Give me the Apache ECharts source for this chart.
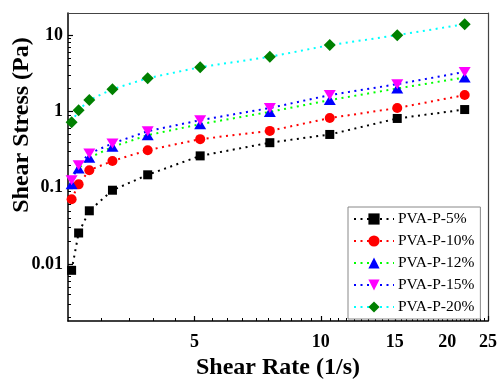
<!DOCTYPE html>
<html>
<head>
<meta charset="utf-8">
<script src="https://cdn.jsdelivr.net/npm/echarts@6/dist/echarts.min.js"></script>
<style>
  html, body { margin: 0; padding: 0; background: #fff; }
  #chart { width: 500px; height: 380px; }
</style>
</head>
<body>
<div id="chart"></div>
<script>
// Shear rate (1/s) for each measurement point
const shearRate = [2.55, 2.65, 2.81, 3.19, 3.87, 5.16, 7.56, 10.5, 15.2, 22.0];

// Shear stress (Pa) for each PVA-P concentration
const stress5  = [0.0083, 0.0256, 0.050, 0.093, 0.148, 0.262, 0.39, 0.50, 0.81, 1.06];
const stress10 = [0.071, 0.111, 0.170, 0.225, 0.311, 0.434, 0.557, 0.82, 1.11, 1.64];
const stress12 = [0.111, 0.179, 0.247, 0.344, 0.489, 0.682, 0.988, 1.41, 2.0, 2.79];
const stress15 = [0.126, 0.198, 0.282, 0.381, 0.552, 0.769, 1.11, 1.64, 2.28, 3.30];
const stress20 = [0.72, 1.04, 1.41, 1.96, 2.73, 3.81, 5.2, 7.4, 10.0, 13.9];

const seriesNames = ['PVA-P-5%', 'PVA-P-10%', 'PVA-P-12%', 'PVA-P-15%', 'PVA-P-20%'];

// Axis tick values
const xMajorTicks = [5, 10, 15, 20, 25];
const xMinorTicks = [];
for (let v = 3; v < 25; v += 0.5) {
  if (xMajorTicks.indexOf(v) < 0) xMinorTicks.push(v);
}
const yMajorTicks = [0.01, 0.1, 1, 10];
const yMinorTicks = [];
[0.001, 0.01, 0.1, 1].forEach(function (base) {
  for (let k = 2; k <= 9; k++) yMinorTicks.push(+(base * k).toPrecision(3));
});

const X_MIN = 2.5, X_MAX = 25;
const Y_MIN = 0.0018, Y_MAX = 19.5;

const serif = "'Liberation Serif', 'Times New Roman', serif";
const lg = Math.log10;

function pairs(ys) {
  return shearRate.map(function (x, i) { return [x, ys[i]]; });
}

function makeSeries(name, ys, symbol, size, markerColor, lineColor, rotate) {
  return {
    name: name,
    type: 'line',
    data: pairs(ys),
    xAxisIndex: 0,
    yAxisIndex: 0,
    symbol: symbol,
    symbolSize: size,
    symbolRotate: rotate || 0,
    showAllSymbol: true,
    clip: true,
    itemStyle: { color: markerColor, borderWidth: 0 },
    lineStyle: { color: lineColor, width: 2, type: [2, 4.5] },
    emphasis: { disabled: true },
    z: 3
  };
}

// Companion axes laid out in log10 space that carry only the tick marks
function tickAxis(pos, lo, hi, values, len, width) {
  return {
    type: 'value', min: lg(lo), max: lg(hi), position: pos,
    axisLine: { show: false, onZero: false },
    axisTick: { show: true, inside: true, length: len, lineStyle: { color: '#000', width: width }, customValues: values.map(lg) },
    axisLabel: { show: false }, splitLine: { show: false }
  };
}

function frameAxis(pos) {
  return {
    type: 'value', min: 0, max: 1, position: pos,
    axisLine: { show: true, onZero: false, lineStyle: { color: '#444', width: 1.2 } },
    axisTick: { show: false }, axisLabel: { show: false }, splitLine: { show: false }
  };
}

const chart = echarts.init(document.getElementById('chart'), null, { renderer: 'canvas' });
chart.setOption({
  animation: false,
  backgroundColor: '#ffffff',
  grid: { left: 68, right: 12, top: 13, bottom: 59, containLabel: false, outerBoundsMode: 'none' },
  legend: {
    data: seriesNames,
    orient: 'vertical',
    left: 348,
    top: 207,
    padding: [4, 6, 4, 5],
    itemGap: 6,
    itemWidth: 40,
    itemHeight: 14,
    borderColor: '#888',
    borderWidth: 1,
    backgroundColor: '#fff',
    textStyle: { fontFamily: serif, fontSize: 15.5, color: '#000', padding: [0, 0, 0, -1] },
    selectedMode: false
  },
  xAxis: [
    {
      type: 'log', logBase: 10, min: X_MIN, max: X_MAX, position: 'bottom',
      name: 'Shear Rate (1/s)', nameLocation: 'middle', nameGap: 34,
      nameTextStyle: { fontFamily: serif, fontWeight: 'bold', fontSize: 24, color: '#000' },
      axisLine: { show: true, onZero: false, lineStyle: { color: '#000', width: 1.5 } },
      axisTick: { show: false },
      axisLabel: { show: true, margin: 12, fontFamily: serif, fontWeight: 'bold', fontSize: 18, color: '#000', customValues: xMajorTicks, formatter: function (v) { return String(Math.round(v)); } },
      splitLine: { show: false }, minorTick: { show: false }
    },
    tickAxis('bottom', X_MIN, X_MAX, xMajorTicks, 5, 1.2),
    tickAxis('bottom', X_MIN, X_MAX, xMinorTicks, 3, 1),
    frameAxis('top')
  ],
  yAxis: [
    {
      type: 'log', logBase: 10, min: Y_MIN, max: Y_MAX, position: 'left',
      name: 'Shear Stress (Pa)', nameLocation: 'middle', nameGap: 34, nameMoveOverlap: false,
      nameTextStyle: { fontFamily: serif, fontWeight: 'bold', fontSize: 24, color: '#000', padding: [0, 0, 0, 84] },
      axisLine: { show: true, onZero: false, lineStyle: { color: '#000', width: 1.5 } },
      axisTick: { show: false },
      axisLabel: { show: true, margin: 5, fontFamily: serif, fontWeight: 'bold', fontSize: 18, color: '#000', customValues: yMajorTicks, formatter: function (v) { return String(+v.toPrecision(2)); } },
      splitLine: { show: false }, minorTick: { show: false }
    },
    tickAxis('left', Y_MIN, Y_MAX, yMajorTicks, 5, 1.2),
    tickAxis('left', Y_MIN, Y_MAX, yMinorTicks, 3, 1),
    frameAxis('right')
  ],
  series: [
    makeSeries(seriesNames[0], stress5, 'rect', 9, '#000000', '#000000'),
    makeSeries(seriesNames[1], stress10, 'circle', 10, '#ff0000', '#ff0000'),
    makeSeries(seriesNames[2], stress12, 'triangle', [12, 10], '#0000ff', '#00ff00'),
    makeSeries(seriesNames[3], stress15, 'triangle', [12, 10], '#ff00ff', '#0000ff', 180),
    makeSeries(seriesNames[4], stress20, 'diamond', 12, '#008000', '#00ffff')
  ]
});
</script>
</body>
</html>
